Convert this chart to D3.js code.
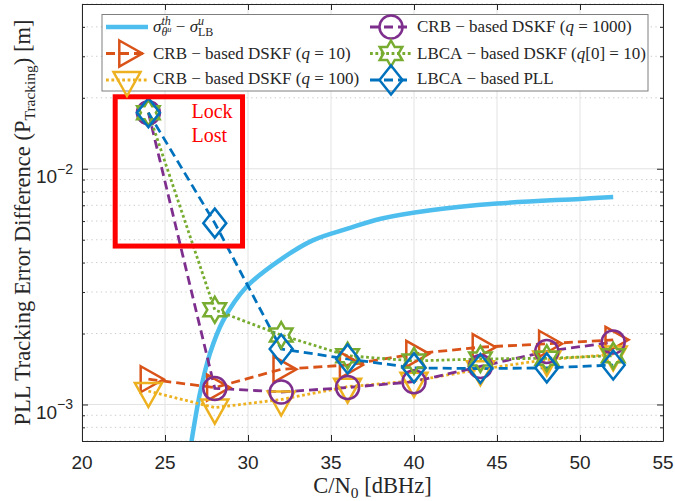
<!DOCTYPE html>
<html>
<head>
<meta charset="utf-8">
<title>PLL Tracking Error Difference</title>
<script src="https://cdn.jsdelivr.net/npm/d3@7"></script>
<style>
  body { margin: 0; background: #fff; }
  .tick-label { font-family: "Liberation Sans", Arial, sans-serif; fill: #262626; }
  .tex { font-family: "Liberation Serif", "DejaVu Serif", serif; fill: #262626; }
  .axis path, .axis line { stroke: #262626; }
</style>
</head>
<body>
<div id="chart"></div>
<script>

const width = 675;
const height = 501;

// C/N0 points where the tracking loops were evaluated
const cn0 = [24, 28, 32, 36, 40, 44, 48, 52];
const crbQ10   = [1.28e-3, 1.18e-3, 1.41e-3, 1.47e-3, 1.64e-3, 1.75e-3, 1.81e-3, 1.88e-3];
const crbQ100  = [1.14e-3, 0.97e-3, 1.05e-3, 1.19e-3, 1.26e-3, 1.41e-3, 1.55e-3, 1.63e-3];
const crbQ1000 = [1.73e-2, 1.17e-3, 1.13e-3, 1.18e-3, 1.25e-3, 1.45e-3, 1.68e-3, 1.84e-3];
const lbcaDskf = [1.73e-2, 2.52e-3, 1.97e-3, 1.61e-3, 1.53e-3, 1.56e-3, 1.57e-3, 1.61e-3];
const lbcaPll  = [1.73e-2, 5.88e-3, 1.72e-3, 1.56e-3, 1.43e-3, 1.42e-3, 1.43e-3, 1.47e-3];

// theoretical sigma minus lower bound
const boundCn0  = [26.5, 26.6, 27.1, 27.7, 28.5, 29.9, 31.9, 33.9, 36.0, 38.0, 41.0, 45.0, 50.0, 52.0];
const boundDiff = [6.3e-4, 7.0e-4, 1.11e-3, 1.64e-3, 2.27e-3, 3.15e-3, 4.09e-3, 4.97e-3, 5.57e-3, 6.14e-3, 6.67e-3, 7.12e-3, 7.45e-3, 7.59e-3];

const xTicks = [20, 25, 30, 35, 40, 45, 50, 55];
const yDecades = [1e-3, 1e-2];

// "lock lost" region, in data units
const lockBox = { x0: 22.0, x1: 29.67, y0: 4.7e-3, y1: 2.02e-2 };

const pl = 82, pr = 663, pt = 4, pb = 441;

const x = d3.scaleLinear().domain([20, 55]).range([pl, pr]);
const y = d3.scaleLog().domain([7e-4, 5e-2]).range([pb, pt]);

const svg = d3.select("#chart").append("svg")
    .attr("width", width)
    .attr("height", height);

svg.append("defs").append("clipPath").attr("id", "plot-clip")
    .append("rect")
    .attr("x", pl).attr("y", pt)
    .attr("width", pr - pl).attr("height", pb - pt);

// grid
const minorY = y.ticks().filter(v => !yDecades.some(d => Math.abs(d - v) < d * 1e-6));
svg.append("g").selectAll("line")
    .data(minorY)
    .join("line")
    .attr("x1", pl).attr("x2", pr)
    .attr("y1", d => y(d)).attr("y2", d => y(d))
    .attr("stroke", "#bdbdbd")
    .attr("stroke-width", 0.8)
    .attr("stroke-dasharray", "1.3,3.4");

svg.append("g").selectAll("line")
    .data(xTicks)
    .join("line")
    .attr("x1", d => x(d)).attr("x2", d => x(d))
    .attr("y1", pt).attr("y2", pb)
    .attr("stroke", "#e3e3e3");

svg.append("g").selectAll("line")
    .data(yDecades)
    .join("line")
    .attr("x1", pl).attr("x2", pr)
    .attr("y1", d => y(d)).attr("y2", d => y(d))
    .attr("stroke", "#e3e3e3");

// axes, ticks pointing inward
svg.append("g").attr("class", "axis")
    .attr("transform", `translate(0,${pb})`)
    .call(d3.axisBottom(x).tickValues(xTicks).tickSizeInner(-6).tickSizeOuter(0).tickFormat(""));
svg.append("g").attr("class", "axis")
    .attr("transform", `translate(0,${pt})`)
    .call(d3.axisTop(x).tickValues(xTicks).tickSizeInner(-6).tickSizeOuter(0).tickFormat(""));
svg.append("g").attr("class", "axis")
    .attr("transform", `translate(${pl},0)`)
    .call(d3.axisLeft(y).tickValues(yDecades).tickSizeInner(-6).tickSizeOuter(0).tickFormat(""));
svg.append("g").attr("class", "axis")
    .attr("transform", `translate(${pr},0)`)
    .call(d3.axisRight(y).tickValues(yDecades).tickSizeInner(-6).tickSizeOuter(0).tickFormat(""));
svg.append("g").attr("class", "axis")
    .attr("transform", `translate(${pl},0)`)
    .call(d3.axisLeft(y).tickValues(minorY).tickSizeInner(-3).tickSizeOuter(0).tickFormat(""))
    .call(g => g.select(".domain").remove());
svg.append("g").attr("class", "axis")
    .attr("transform", `translate(${pr},0)`)
    .call(d3.axisRight(y).tickValues(minorY).tickSizeInner(-3).tickSizeOuter(0).tickFormat(""))
    .call(g => g.select(".domain").remove());

// tick labels
svg.append("g").selectAll("text")
    .data(xTicks)
    .join("text")
    .attr("class", "tick-label")
    .attr("x", d => x(d))
    .attr("y", 469)
    .attr("text-anchor", "middle")
    .attr("font-size", 19)
    .text(d => d);

const yLab = svg.append("g").selectAll("text")
    .data(yDecades)
    .join("text")
    .attr("class", "tick-label")
    .attr("x", 73)
    .attr("y", d => y(d) + 14.5)
    .attr("text-anchor", "end")
    .attr("font-size", 19);
yLab.append("tspan").text("10");
yLab.append("tspan").attr("font-size", 14).attr("dy", -9.5).text(d => "\u2212" + Math.round(-Math.log10(d)));

// axis titles
const xTitle = svg.append("text").attr("class", "tex")
    .attr("x", (pl + pr) / 2).attr("y", 493)
    .attr("text-anchor", "middle")
    .attr("font-size", 22.5);
xTitle.append("tspan").text("C/N");
xTitle.append("tspan").attr("font-size", 15.5).attr("dy", 4.5).text("0");
xTitle.append("tspan").attr("dy", -4.5).text("\u00a0[dBHz]");

const yTitle = svg.append("text").attr("class", "tex")
    .attr("transform", `translate(30,${(pt + pb) / 2}) rotate(-90)`)
    .attr("text-anchor", "middle")
    .attr("font-size", 22.5);
yTitle.append("tspan").text("PLL Tracking Error Difference (P");
yTitle.append("tspan").attr("font-size", 15.5).attr("dy", 4.5).text("Tracking");
yTitle.append("tspan").attr("dy", -4.5).text(")\u00a0[m]");

// markers
const markers = {
    circle: "M11.5,0A11.5,11.5 0 1,1 -11.5,0A11.5,11.5 0 1,1 11.5,0Z",
    right: "M-7.7,-13L15.3,0L-7.7,13Z",
    down: "M-13.5,-8L13.5,-8L0,16Z",
    diamond: "M0,-14.5L11.5,0L0,14.5L-11.5,0Z",
    hexagram: (() => {
        const pts = d3.range(12).map(i => {
            const a = -Math.PI / 2 + i * Math.PI / 6;
            const r = i % 2 ? 7.5 : 13;
            return [r * Math.cos(a), r * Math.sin(a)];
        });
        return "M" + pts.map(p => p.map(v => v.toFixed(2)).join(",")).join("L") + "Z";
    })()
};

const series = [
    { name: "q10",   values: crbQ10,   color: "#D95319", dash: "9,5",     marker: "right" },
    { name: "q100",  values: crbQ100,  color: "#EDB120", dash: "2.8,2.6", marker: "down" },
    { name: "q1000", values: crbQ1000, color: "#7E2F8E", dash: "9,5",     marker: "circle" },
    { name: "lbcaDskf", values: lbcaDskf, color: "#77AC30", dash: "2.8,2.6", marker: "hexagram" },
    { name: "lbcaPll",  values: lbcaPll,  color: "#0072BD", dash: "9,5",     marker: "diamond" }
];

const plot = svg.append("g").attr("clip-path", "url(#plot-clip)");

const boundPts = boundCn0.map((c, i) => [c, boundDiff[i]]);
plot.append("path")
    .datum(boundPts)
    .attr("fill", "none")
    .attr("stroke", "#4DBEEE")
    .attr("stroke-width", 4.5)
    .attr("d", d3.line().x(d => x(d[0])).y(d => y(d[1])).curve(d3.curveCatmullRom.alpha(0.5)));

series.forEach(s => {
    const pts = cn0.map((c, i) => [c, s.values[i]]);
    plot.append("path")
        .datum(pts)
        .attr("fill", "none")
        .attr("stroke", s.color)
        .attr("stroke-width", 2.8)
        .attr("stroke-dasharray", s.dash)
        .attr("d", d3.line().x(d => x(d[0])).y(d => y(d[1])));
    svg.append("g").selectAll("path")
        .data(pts)
        .join("path")
        .attr("transform", d => `translate(${x(d[0])},${y(d[1])})`)
        .attr("d", markers[s.marker])
        .attr("fill", "none")
        .attr("stroke", s.color)
        .attr("stroke-width", 2.5);
});

// lock lost annotation
svg.append("rect")
    .attr("x", x(lockBox.x0)).attr("y", y(lockBox.y1))
    .attr("width", x(lockBox.x1) - x(lockBox.x0))
    .attr("height", y(lockBox.y0) - y(lockBox.y1))
    .attr("fill", "none")
    .attr("stroke", "#ff0000")
    .attr("stroke-width", 5);

const lockText = svg.append("text").attr("class", "tex")
    .attr("font-size", 20)
    .style("fill", "#ff0000");
lockText.append("tspan").attr("x", 191.5).attr("y", 118).text("Lock");
lockText.append("tspan").attr("x", 191.5).attr("y", 142).text("Lost");

// legend
const legend = svg.append("g");
legend.append("rect")
    .attr("x", 102).attr("y", 14.5)
    .attr("width", 546).attr("height", 76.5)
    .attr("fill", "#fff")
    .attr("stroke", "#7f7f7f");

// one text element per entry, pieces placed as tspans (scripts stacked by hand)
function texRun(g, x0, y0, items, base) {
    const text = g.append("text").attr("class", "tex").attr("font-size", base);
    let cx = x0, mark = x0, reach = x0;
    items.forEach(it => {
        if (it.join) cx = reach;
        if (it.mark) mark = cx;
        if (it.back) cx = mark;
        const t = text.append("tspan")
            .attr("x", cx).attr("y", y0 + (it.dy || 0))
            .attr("font-size", it.size || null)
            .attr("font-style", it.it ? "italic" : null)
            .text(it.t);
        cx += t.node().getComputedTextLength();
        reach = Math.max(reach, cx);
    });
}

const lf = 17, ls = 12, lss = 8.5;
const crb = q => [{ t: "CRB\u00a0\u2212\u00a0based DSKF (" }, { t: "q", it: 1 }, { t: "\u00a0=\u00a0" + q + ")" }];
const legendItems = [
    { col: 0, row: 0, color: "#4DBEEE", width: 4.5,
      text: [{ t: "\u03c3", it: 1 }, { t: "th", size: ls, dy: -6.5, it: 1, mark: 1 },
             { t: "\u03b8", size: ls, dy: 4, it: 1, back: 1 }, { t: "u", size: lss, dy: 0, it: 1 },
             { t: "\u00a0\u2212\u00a0", join: 1 }, { t: "\u03c3", it: 1 },
             { t: "u", size: ls, dy: -6.5, it: 1, mark: 1 }, { t: "LB", size: ls, dy: 4, back: 1 }] },
    { col: 0, row: 1, s: series[0], text: crb(10) },
    { col: 0, row: 2, s: series[1], text: crb(100) },
    { col: 1, row: 0, s: series[2], text: crb(1000) },
    { col: 1, row: 1, s: series[3],
      text: [{ t: "LBCA\u00a0\u2212\u00a0based DSKF (" }, { t: "q", it: 1 }, { t: "[0]\u00a0=\u00a010)" }] },
    { col: 1, row: 2, s: series[4], text: [{ t: "LBCA\u00a0\u2212\u00a0based PLL" }] }
];
const rowMid = [27, 53.5, 80];
const rowBase = [31.5, 58.5, 84];
const colLine = [[106, 148], [370, 412]];
const colText = [153, 417];

legendItems.forEach(e => {
    const [a, b] = colLine[e.col];
    const cy = rowMid[e.row];
    const color = e.s ? e.s.color : e.color;
    legend.append("line")
        .attr("x1", a).attr("x2", b).attr("y1", cy).attr("y2", cy)
        .attr("stroke", color)
        .attr("stroke-width", e.s ? 2.8 : e.width)
        .attr("stroke-dasharray", e.s ? e.s.dash : null);
    if (e.s) {
        legend.append("path")
            .attr("transform", `translate(${(a + b) / 2},${cy})`)
            .attr("d", markers[e.s.marker])
            .attr("fill", "none")
            .attr("stroke", color)
            .attr("stroke-width", 2.5);
    }
    texRun(legend, colText[e.col], rowBase[e.row], e.text, lf);
});

</script>
</body>
</html>
